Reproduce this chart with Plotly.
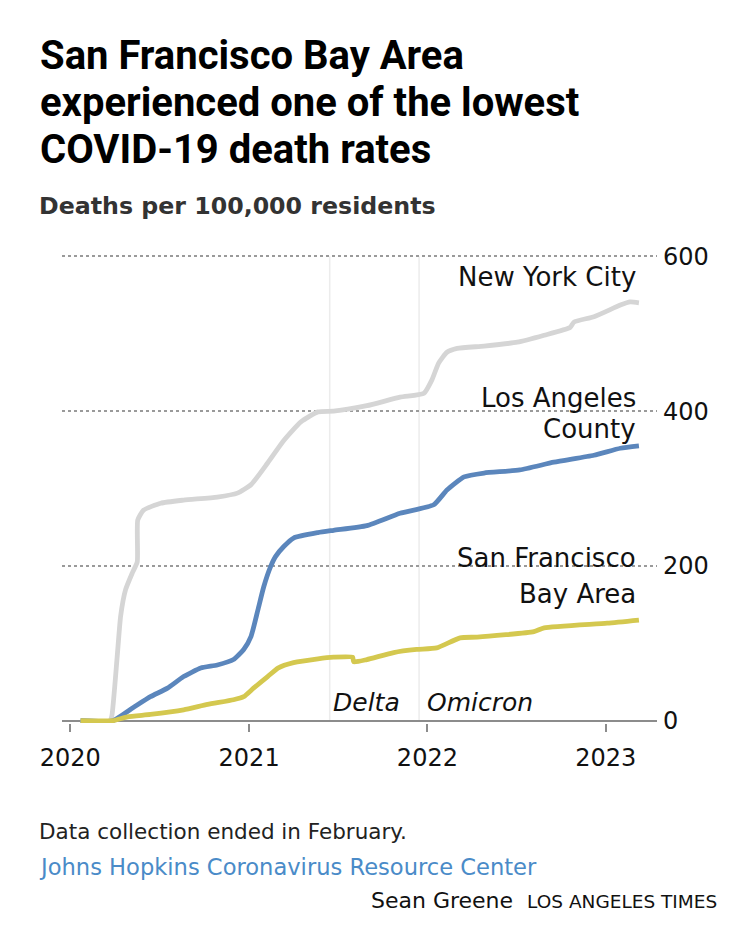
import plotly.graph_objects as go

# deaths per 100,000 residents
NYC_DATES = [
    "2020-01-22", "2020-03-22", "2020-03-26", "2020-04-06", "2020-04-13",
    "2020-04-23", "2020-05-07", "2020-05-17", "2020-05-18", "2020-05-30",
    "2020-07-04", "2020-08-20", "2020-10-28", "2020-12-08", "2021-01-05",
    "2021-02-08", "2021-03-13", "2021-04-17", "2021-05-22", "2021-06-23",
    "2021-08-30", "2021-11-06", "2021-12-25", "2022-01-10", "2022-01-24",
    "2022-02-10", "2022-03-03", "2022-04-27", "2022-07-04", "2022-08-28",
    "2022-10-20", "2022-10-28", "2022-12-08", "2023-01-31", "2023-02-20",
    "2023-03-10",
]
NYC_DEATHS = [
    0, 0, 6, 83, 135, 169, 191, 205, 259, 272,
    281, 285, 289, 294, 305, 333, 362, 386, 399, 400,
    407, 418, 423, 440, 462, 476, 481, 484, 489, 498,
    508, 515, 522, 537, 541, 540,
]

LA_DATES = [
    "2020-01-22", "2020-03-28", "2020-05-09", "2020-06-13", "2020-07-18",
    "2020-08-20", "2020-09-24", "2020-10-28", "2020-11-30", "2020-12-21",
    "2021-01-05", "2021-01-19", "2021-01-31", "2021-02-14", "2021-02-24",
    "2021-03-13", "2021-04-02", "2021-05-22", "2021-06-23", "2021-08-30",
    "2021-11-06", "2022-01-14", "2022-02-10", "2022-03-17", "2022-04-27",
    "2022-07-09", "2022-09-17", "2022-12-08", "2023-01-31", "2023-03-10",
]
LA_DEATHS = [
    0, 0, 17, 31, 42, 57, 68, 72, 79, 92,
    109, 143, 173, 199, 212, 225, 236, 243, 246, 252,
    268, 279, 298, 315, 320, 324, 334, 343, 352, 355,
]

SF_DATES = [
    "2020-01-22", "2020-03-28", "2020-04-27", "2020-06-13", "2020-08-20",
    "2020-10-08", "2020-11-30", "2020-12-21", "2021-01-10", "2021-02-08",
    "2021-03-01", "2021-04-02", "2021-05-22", "2021-06-23", "2021-08-01",
    "2021-08-03", "2021-08-30", "2021-10-24", "2021-12-10", "2022-01-20",
    "2022-03-09", "2022-04-13", "2022-08-07", "2022-08-28", "2023-01-04",
    "2023-03-10",
]
SF_DEATHS = [
    0, 0, 5, 8, 14, 21, 27, 31, 42, 57,
    68, 75, 80, 82, 82, 76, 79, 88, 92, 94,
    107, 108, 115, 120, 126, 130,
]

SERIES_LABELS = [["New York City"], ["Los Angeles", "County"], ["San Francisco", "Bay Area"]]
SERIES_COLORS = ["#d5d5d5", "#5b86bc", "#d4c84f"]
LABEL_Y = [[573], [417, 377], [210, 164]]

VARIANT_NAMES = ["Delta", "Omicron"]
VARIANT_DATES = ["2021-06-15", "2021-12-15"]

YEAR_TICKS = ["2020-01-01", "2021-01-01", "2022-01-01", "2023-01-01"]
YEAR_LABELS = ["2020", "2021", "2022", "2023"]
Y_TICKS = [0, 200, 400, 600]

W, H = 732, 926
PLOT_L, PLOT_R, PLOT_T, PLOT_B = 62, 657, 254, 723


def px(x, y):
    # pixel position on the page -> paper coordinates
    return (x - PLOT_L) / (PLOT_R - PLOT_L), (PLOT_B - y) / (PLOT_B - PLOT_T)


FONT = "DejaVu Sans"

fig = go.Figure()

series = [(NYC_DATES, NYC_DEATHS), (LA_DATES, LA_DEATHS), (SF_DATES, SF_DEATHS)]
for (dates, deaths), lines, color, ys in zip(series, SERIES_LABELS, SERIES_COLORS, LABEL_Y):
    fig.add_trace(go.Scatter(
        x=dates, y=deaths, mode="lines",
        line=dict(color=color, width=4.8, shape="spline", smoothing=0.5),
        hoverinfo="skip", showlegend=False,
    ))
    for text, ly in zip(lines, ys):
        fig.add_annotation(
            x=dates[-1], y=ly, text=text, showarrow=False,
            xanchor="right", align="right", xshift=-1,
            font=dict(family=FONT, size=26, color="#111"),
        )

for name, d, shift in zip(VARIANT_NAMES, VARIANT_DATES, [1, 6]):
    fig.add_shape(
        type="line", x0=d, x1=d, y0=0, y1=600, yref="y",
        line=dict(color="#ececec", width=1.5), layer="below",
    )
    fig.add_annotation(
        x=d, y=24, text="<i>" + name + "</i>", showarrow=False,
        xanchor="left", xshift=shift,
        font=dict(family=FONT, size=25, color="#111"),
    )

title_lines = [
    ("San Francisco Bay Area", 55),
    ("experienced one of the lowest", 102),
    ("COVID-19 death rates", 149),
]
for text, y in title_lines:
    ax, ay = px(38, y)
    fig.add_annotation(
        x=ax, y=ay, xref="paper", yref="paper", text="<b>" + text + "</b>",
        showarrow=False, xanchor="left", yanchor="middle",
        font=dict(family="Roboto", size=40, color="#000"),
    )

ax, ay = px(37, 206)
fig.add_annotation(
    x=ax, y=ay, xref="paper", yref="paper",
    text="<b>Deaths per 100,000 residents</b>",
    showarrow=False, xanchor="left", yanchor="middle",
    font=dict(family=FONT, size=23.7, color="#333"),
)

ax, ay = px(37, 831)
fig.add_annotation(
    x=ax, y=ay, xref="paper", yref="paper",
    text="Data collection ended in February.",
    showarrow=False, xanchor="left", yanchor="middle",
    font=dict(family=FONT, size=21.5, color="#222"),
)
ax, ay = px(37, 867)
fig.add_annotation(
    x=ax, y=ay, xref="paper", yref="paper",
    text="Johns Hopkins Coronavirus Resource Center",
    showarrow=False, xanchor="left", yanchor="middle",
    font=dict(family=FONT, size=22.6, color="#4a8bc8"),
)
ax, ay = px(719, 900)
fig.add_annotation(
    x=ax, y=ay, xref="paper", yref="paper",
    text="Sean Greene  <span style='font-size:18.5px'>LOS ANGELES TIMES</span>",
    showarrow=False, xanchor="right", yanchor="middle",
    font=dict(family=FONT, size=22, color="#111"),
)

fig.update_xaxes(
    type="date", range=["2019-12-15", "2023-04-16"],
    tickvals=YEAR_TICKS, ticktext=YEAR_LABELS,
    showgrid=False, zeroline=False, showline=False,
    ticks="outside", ticklen=8, tickwidth=2, tickcolor="#8c8c8c",
    tickfont=dict(family=FONT, size=24, color="#111"),
    ticklabelstandoff=5,
)
fig.update_yaxes(
    range=[-3, 603], side="right",
    tickvals=Y_TICKS, showgrid=True, gridcolor="#9a9a9a", griddash="dot",
    gridwidth=1.5, showline=False, ticks="",
    zeroline=True, zerolinecolor="#8c8c8c", zerolinewidth=2,
    tickfont=dict(family=FONT, size=24, color="#111"),
    ticklabelstandoff=5,
)
fig.update_layout(
    width=W, height=H,
    margin=dict(l=PLOT_L, r=W - PLOT_R, t=PLOT_T, b=H - PLOT_B),
    paper_bgcolor="white", plot_bgcolor="white",
    showlegend=False,
)

fig.write_html(
    "out.html",
    config={"displayModeBar": False},
    post_script="document.body.style.margin='0';",
)
